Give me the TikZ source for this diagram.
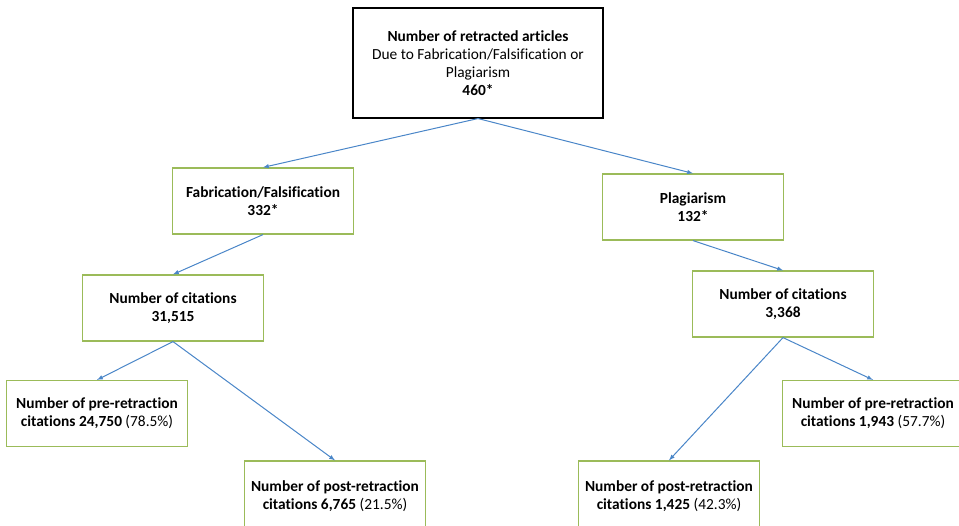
\documentclass[tikz,border=0pt]{standalone}
\usepackage{fontspec}
\setmainfont{Carlito}[Ligatures=NoCommon]
\usetikzlibrary{shapes,arrows,positioning}
\definecolor{boxgreen}{RGB}{155,187,89}
\definecolor{arrblue}{RGB}{74,134,200}
\tikzset{
  box/.style={draw=boxgreen, line width=1.2pt, minimum width=181pt, minimum height=66pt, align=center, font=\fontsize{15.4}{18}\selectfont},
  topbox/.style={draw=black, line width=1.1pt, minimum width=250pt, minimum height=110pt, align=center, font=\fontsize{15.4}{18}\selectfont},
  arr/.style={-latex, draw=arrblue, line width=1pt}
}

\begin{document}
\begin{tikzpicture}[x=1pt, y=-1pt]
  \useasboundingbox (0,0) rectangle (959,526);
  \clip (0,0) rectangle (959,526);
  % top of the tree
  \node[topbox] (top) at (478,63) {\textbf{Number of retracted articles}\\Due to Fabrication/Falsification or\\Plagiarism\\\textbf{460*}};
  % second level
  \node[box] (fab) at (263,201) {\textbf{Fabrication/Falsification}\\\textbf{332*}};
  \node[box] (plag) at (693,207) {\textbf{Plagiarism}\\\textbf{132*}};
  % citations
  \node[box] (citeL) at (173,308) {\textbf{Number of citations}\\\textbf{31,515}};
  \node[box] (citeR) at (783,304) {\textbf{Number of citations}\\\textbf{3,368}};
  % pre and post retraction
  \node[box] (preL) at (97,413.5) {\textbf{Number of pre-retraction}\\\textbf{citations 24,750} (78.5\%)};
  \node[box, minimum height=70pt] (postL) at (335,496) {\textbf{Number of post-retraction}\\\textbf{citations 6,765} (21.5\%)};
  \node[box] (preR) at (873,413.5) {\textbf{Number of pre-retraction}\\\textbf{citations 1,943} (57.7\%)};
  \node[box, minimum height=70pt] (postR) at (669,496) {\textbf{Number of post-retraction}\\\textbf{citations 1,425} (42.3\%)};
  % connectors
  \draw[arr] (top.south) -- (fab.north);
  \draw[arr] (top.south) -- (plag.north);
  \draw[arr] (fab.south) -- (citeL.north);
  \draw[arr] (plag.south) -- (citeR.north);
  \draw[arr] (citeL.south) -- (preL.north);
  \draw[arr] (citeL.south) -- (postL.north);
  \draw[arr] (citeR.south) -- (preR.north);
  \draw[arr] (citeR.south) -- (postR.north);
\end{tikzpicture}
\end{document}
